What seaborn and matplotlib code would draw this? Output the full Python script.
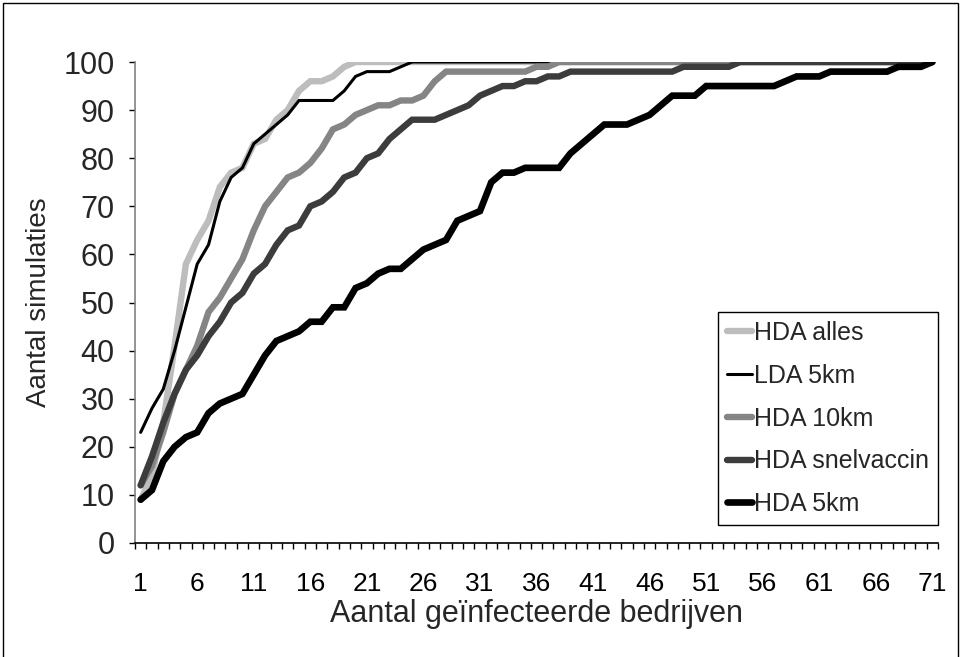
import matplotlib
matplotlib.use('Agg')
import matplotlib.pyplot as plt
import seaborn as sns
import pandas as pd
import numpy as np
from matplotlib.patches import Rectangle

# ---------------- data ----------------
bedrijven = list(range(1, 72))
tick_labels = ['1', '6', '11', '16', '21', '26', '31', '36', '41', '46', '51', '56', '61', '66', '71']

hda_alles = [9, 14, 25, 41, 58, 63, 67, 74, 77, 78, 83, 84, 88, 90, 94, 96, 96, 97, 99, 100,
             100, 100, 100, 100, 100, 100, 100, 100, 100, 100, 100, 100, 100, 100, 100, 100,
             100, 100, 100, 100, 100, 100, 100, 100, 100, 100, 100, 100, 100, 100, 100, 100,
             100, 100, 100, 100, 100, 100, 100, 100, 100, 100, 100, 100, 100, 100, 100, 100,
             100, 100, 100]
lda_5km = [23, 28, 32, 40, 49, 58, 62, 71, 76, 78, 83, 85, 87, 89, 92, 92, 92, 92, 94, 97,
           98, 98, 98, 99, 100, 100, 100, 100, 100, 100, 100, 100, 100, 100, 100, 100,
           100, 100, 100, 100, 100, 100, 100, 100, 100, 100, 100, 100, 100, 100, 100, 100,
           100, 100, 100, 100, 100, 100, 100, 100, 100, 100, 100, 100, 100, 100, 100, 100,
           100, 100, 100]
hda_10km = [12, 16, 23, 31, 36, 41, 48, 51, 55, 59, 65, 70, 73, 76, 77, 79, 82, 86, 87, 89,
            90, 91, 91, 92, 92, 93, 96, 98, 98, 98, 98, 98, 98, 98, 98, 99, 99, 100, 100, 100,
            100, 100, 100, 100, 100, 100, 100, 100, 100, 100, 100, 100, 100, 100, 100, 100,
            100, 100, 100, 100, 100, 100, 100, 100, 100, 100, 100, 100, 100, 100, 100]
hda_snelvaccin = [12, 18, 25, 31, 36, 39, 43, 46, 50, 52, 56, 58, 62, 65, 66, 70, 71, 73, 76, 77,
                  80, 81, 84, 86, 88, 88, 88, 89, 90, 91, 93, 94, 95, 95, 96, 96, 97, 97, 98, 98,
                  98, 98, 98, 98, 98, 98, 98, 98, 99, 99, 99, 99, 99, 100, 100, 100, 100, 100,
                  100, 100, 100, 100, 100, 100, 100, 100, 100, 100, 100, 100, 100]
hda_5km = [9, 11, 17, 20, 22, 23, 27, 29, 30, 31, 35, 39, 42, 43, 44, 46, 46, 49, 49, 53,
           54, 56, 57, 57, 59, 61, 62, 63, 67, 68, 69, 75, 77, 77, 78, 78, 78, 78, 81, 83,
           85, 87, 87, 87, 88, 89, 91, 93, 93, 93, 95, 95, 95, 95, 95, 95, 95, 96, 97, 97,
           97, 98, 98, 98, 98, 98, 98, 99, 99, 99, 100]

series_names = ['HDA alles', 'LDA 5km', 'HDA 10km', 'HDA snelvaccin', 'HDA 5km']
series_values = [hda_alles, lda_5km, hda_10km, hda_snelvaccin, hda_5km]

# ---------------- style ----------------
colors = ['#bdbdbd', '#000000', '#858585', '#3c3c3c', '#000000']
widths = [4.6, 2.2, 4.6, 4.6, 4.8]

sns.set_theme(style='white')
plt.rcParams['font.family'] = ['Liberation Sans', 'DejaVu Sans']

fig = plt.figure(figsize=(9.65, 6.57), dpi=100)
W, H = 965, 657
ax = fig.add_axes([135 / W, 1 - 543 / H, (938 - 135) / W, (543 - 62) / H])

for name, vals, c, lw in zip(series_names, series_values, colors, widths):
    df = pd.DataFrame({'x': bedrijven, 'y': vals})
    sns.lineplot(data=df, x='x', y='y', ax=ax, color=c, linewidth=lw, label=name,
                 solid_joinstyle='miter')

ax.set_xlim(0.5, 71.5)
ax.set_ylim(0, 100)
ax.set_xticks(list(range(1, 72, 5)))
ax.set_xticklabels(tick_labels)
ax.set_xticks(np.arange(0.5, 72, 1), minor=True)
ax.set_yticks(list(range(0, 101, 10)))
ax.tick_params(axis='x', which='major', length=0, pad=21, labelsize=19, colors='black')
ax.tick_params(axis='x', which='minor', length=4.5, width=1, direction='out', color='black', bottom=True)
ax.tick_params(axis='y', which='major', length=4.5, width=1, direction='out', color='black',
               pad=10, labelsize=22, left=True)

for s in ['top', 'right']:
    ax.spines[s].set_visible(False)
ax.spines['left'].set_color('#808080')
ax.spines['left'].set_linewidth(1.2)
ax.spines['bottom'].set_color('black')
ax.spines['bottom'].set_linewidth(1.2)
ax.grid(False)

ax.set_xlabel('Aantal geïnfecteerde bedrijven', fontsize=22, labelpad=2)
ax.set_ylabel('Aantal simulaties', fontsize=20, labelpad=8)

leg = ax.legend(loc='lower right', bbox_to_anchor=(1.0, 0.037), frameon=True, fancybox=False,
                edgecolor='black', fontsize=18, handlelength=1.0, handletextpad=0.1,
                labelspacing=0.75, borderpad=0.36, borderaxespad=0, framealpha=1)
leg.get_frame().set_linewidth(1.0)

fig.add_artist(Rectangle((3 / W, -0.05), 955 / W, 1 - 3 / H + 0.05, transform=fig.transFigure,
                         fill=False, edgecolor='black', linewidth=1.0))

fig.savefig('out.png', dpi=100)
